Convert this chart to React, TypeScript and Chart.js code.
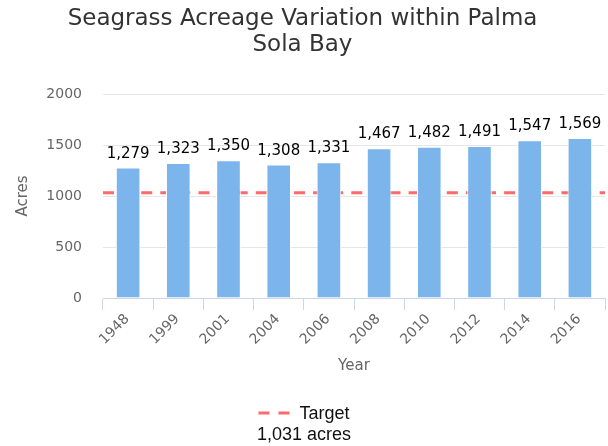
import React, { useEffect, useRef } from 'react';
import { Chart, registerables } from 'chart.js';

Chart.register(...registerables);

const TITLE_LINES = ['Seagrass Acreage Variation within Palma', 'Sola Bay'];
const CATEGORIES = ['1948', '1999', '2001', '2004', '2006', '2008', '2010', '2012', '2014', '2016'];
const ACRES = [1279, 1323, 1350, 1308, 1331, 1467, 1482, 1491, 1547, 1569];
const TARGET_VALUE = 1031;
const TARGET_LABEL = 'Target';
const TARGET_TEXT = '1,031 acres';
const Y_MIN = 0;
const Y_MAX = 2000;
const Y_STEP = 500;
const X_TITLE = 'Year';
const Y_TITLE = 'Acres';

const BAR_COLOR = '#7cb5ec';
const TARGET_COLOR = '#fd6a6a';
const FONT = '"DejaVu Sans", sans-serif';
const LEGEND_FONT = '"Liberation Sans", Arial, sans-serif';

const fmt = (v: number) => v.toLocaleString('en-US');

const targetLinePlugin = {
  id: 'targetLine',
  beforeDatasetsDraw(chart: any) {
    const { ctx, chartArea, scales } = chart;
    const y = scales.y.getPixelForValue(TARGET_VALUE);
    ctx.save();
    ctx.strokeStyle = TARGET_COLOR;
    ctx.lineWidth = 3;
    ctx.setLineDash([11, 8.1]);
    ctx.beginPath();
    ctx.moveTo(chartArea.left, y);
    ctx.lineTo(chartArea.right, y);
    ctx.stroke();
    ctx.restore();
  },
};

const dataLabelPlugin = {
  id: 'dataLabels',
  afterDatasetsDraw(chart: any) {
    const { ctx } = chart;
    const meta = chart.getDatasetMeta(0);
    ctx.save();
    ctx.font = `15px ${FONT}`;
    ctx.fillStyle = '#000';
    ctx.textAlign = 'center';
    ctx.textBaseline = 'alphabetic';
    meta.data.forEach((el: any, i: number) => {
      ctx.fillText(fmt(ACRES[i]), el.x, el.y - 10);
    });
    ctx.restore();
  },
};

const legendPlugin = {
  id: 'customLegend',
  afterDraw(chart: any) {
    const { ctx } = chart;
    const cx = chart.width / 2;
    ctx.save();
    ctx.font = `18px ${LEGEND_FONT}`;
    const tw = ctx.measureText(TARGET_LABEL).width;
    const symW = 32;
    const gap = 9;
    const total = symW + gap + tw;
    const x0 = cx - total / 2;
    const base1 = chart.height - 27;
    const base2 = chart.height - 6;
    ctx.strokeStyle = TARGET_COLOR;
    ctx.lineWidth = 3;
    ctx.setLineDash([11, 9]);
    ctx.beginPath();
    ctx.moveTo(x0, base1 - 6);
    ctx.lineTo(x0 + symW, base1 - 6);
    ctx.stroke();
    ctx.setLineDash([]);
    ctx.fillStyle = '#111';
    ctx.textAlign = 'left';
    ctx.textBaseline = 'alphabetic';
    ctx.fillText(TARGET_LABEL, x0 + symW + gap, base1);
    ctx.textAlign = 'center';
    ctx.fillText(TARGET_TEXT, cx, base2);
    ctx.restore();
  },
};

export default function App() {
  const canvasRef = useRef<HTMLCanvasElement | null>(null);

  useEffect(() => {
    if (!canvasRef.current) return;
    const chart = new Chart(canvasRef.current, {
      type: 'bar',
      data: {
        labels: CATEGORIES,
        datasets: [
          {
            label: 'Acres',
            data: ACRES,
            backgroundColor: BAR_COLOR,
            borderColor: '#ffffff',
            borderWidth: 1,
            barPercentage: 0.49,
            categoryPercentage: 1,
          },
        ],
      },
      options: {
        responsive: false,
        animation: false,
        devicePixelRatio: 1,
        layout: { padding: { left: 0, right: 3, top: 0, bottom: 68 } },
        plugins: {
          legend: { display: false },
          tooltip: { enabled: false },
          title: {
            display: true,
            text: TITLE_LINES,
            color: '#333333',
            font: { family: FONT, size: 23, weight: 'normal', lineHeight: 1.15 },
            padding: { top: 5.5, bottom: 35.6 },
          },
        },
        scales: {
          x: {
            grid: {
              display: true,
              drawOnChartArea: false,
              drawTicks: true,
              tickLength: 12,
              color: '#ccd6eb',
              offset: true,
            },
            border: { display: true, color: '#ccd6eb', width: 1 },
            ticks: {
              color: '#666666',
              font: { family: FONT, size: 14 },
              minRotation: 45,
              maxRotation: 45,
              autoSkip: false,
              padding: 1,
              labelOffset: -1,
            },
            title: {
              display: true,
              text: X_TITLE,
              color: '#666666',
              font: { family: FONT, size: 15 },
              padding: { top: 0, bottom: 3 },
            },
            afterFit(scale: any) {
              scale.height = 80;
            },
          },
          y: {
            min: Y_MIN,
            max: Y_MAX,
            grid: { color: '#e6e6e6', drawTicks: false },
            border: { display: false },
            ticks: {
              stepSize: Y_STEP,
              color: '#666666',
              font: { family: FONT, size: 14 },
              padding: 21,
              callback: (v: any) => String(v),
            },
            title: {
              display: true,
              text: Y_TITLE,
              color: '#666666',
              font: { family: FONT, size: 15 },
              padding: { top: 14.5, bottom: 0 },
            },
            afterFit(scale: any) {
              scale.width = 103;
            },
          },
        },
      },
      plugins: [targetLinePlugin, dataLabelPlugin, legendPlugin],
    });
    return () => chart.destroy();
  }, []);

  return (
    <div style={{ position: 'fixed', left: 0, top: 0, width: 608, height: 446, background: '#fff' }}>
      <canvas ref={canvasRef} width={608} height={446} />
    </div>
  );
}
